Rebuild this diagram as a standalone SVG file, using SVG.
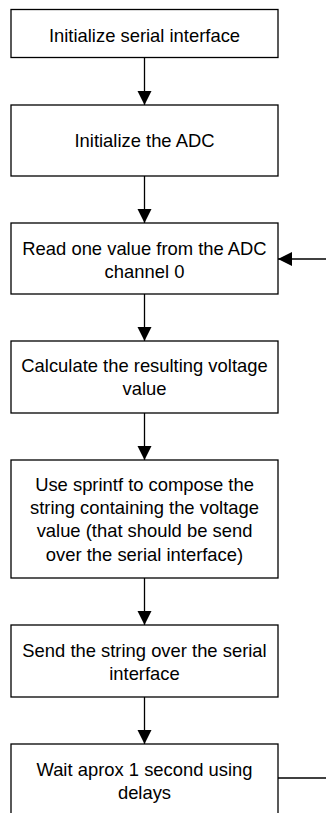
<svg xmlns="http://www.w3.org/2000/svg" width="326" height="813" viewBox="0 0 326 813">
<style>
.box{fill:#fff;stroke:#000;stroke-width:1.3}
.lbl{font-family:"Liberation Sans",Arial,sans-serif;font-size:18.4px;fill:#000;text-anchor:middle}
.con{fill:none;stroke:#000;stroke-width:1.3}
</style>
<defs>
<marker id="ah" markerUnits="userSpaceOnUse" markerWidth="15" markerHeight="15" refX="14" refY="7" orient="auto">
<path d="M0,0 L14,7 L0,14 Z" fill="#000"/>
</marker>
</defs>
<rect width="326" height="813" fill="#fff"/>
<g id="connectors">
<line class="con" x1="144.5" y1="57.5" x2="144.5" y2="105" marker-end="url(#ah)"/>
<line class="con" x1="144.5" y1="176" x2="144.5" y2="223" marker-end="url(#ah)"/>
<line class="con" x1="144.5" y1="294" x2="144.5" y2="341" marker-end="url(#ah)"/>
<line class="con" x1="144.5" y1="413" x2="144.5" y2="460" marker-end="url(#ah)"/>
<line class="con" x1="144.5" y1="578" x2="144.5" y2="625" marker-end="url(#ah)"/>
<line class="con" x1="144.5" y1="697" x2="144.5" y2="744" marker-end="url(#ah)"/>
<line class="con" x1="278" y1="778" x2="330" y2="778"/>
<line class="con" x1="330" y1="259" x2="278" y2="259" marker-end="url(#ah)"/>
</g>
<g id="n1">
<rect class="box" x="11" y="9.5" width="267" height="48"/>
<text class="lbl" x="144.5" y="41.5">Initialize serial interface</text>
</g>
<g id="n2">
<rect class="box" x="11" y="105" width="267" height="71"/>
<text class="lbl" x="144.5" y="147">Initialize the ADC</text>
</g>
<g id="n3">
<rect class="box" x="11" y="223" width="267" height="71"/>
<text class="lbl" x="144.5" y="255">Read one value from the ADC</text>
<text class="lbl" x="144.5" y="278">channel 0</text>
</g>
<g id="n4">
<rect class="box" x="11" y="341" width="267" height="72"/>
<text class="lbl" x="144.5" y="372">Calculate the resulting voltage</text>
<text class="lbl" x="144.5" y="395">value</text>
</g>
<g id="n5">
<rect class="box" x="11" y="460" width="267" height="118"/>
<text class="lbl" x="144.5" y="490.7">Use sprintf to compose the</text>
<text class="lbl" x="144.5" y="514">string containing the voltage</text>
<text class="lbl" x="144.5" y="537.3">value (that should be send</text>
<text class="lbl" x="144.5" y="560.6">over the serial interface)</text>
</g>
<g id="n6">
<rect class="box" x="11" y="625" width="267" height="72"/>
<text class="lbl" x="144.5" y="656.7">Send the string over the serial</text>
<text class="lbl" x="144.5" y="680">interface</text>
</g>
<g id="n7">
<rect class="box" x="11" y="744" width="267" height="80"/>
<text class="lbl" x="144.5" y="775.7">Wait aprox 1 second using</text>
<text class="lbl" x="144.5" y="799">delays</text>
</g>
</svg>
